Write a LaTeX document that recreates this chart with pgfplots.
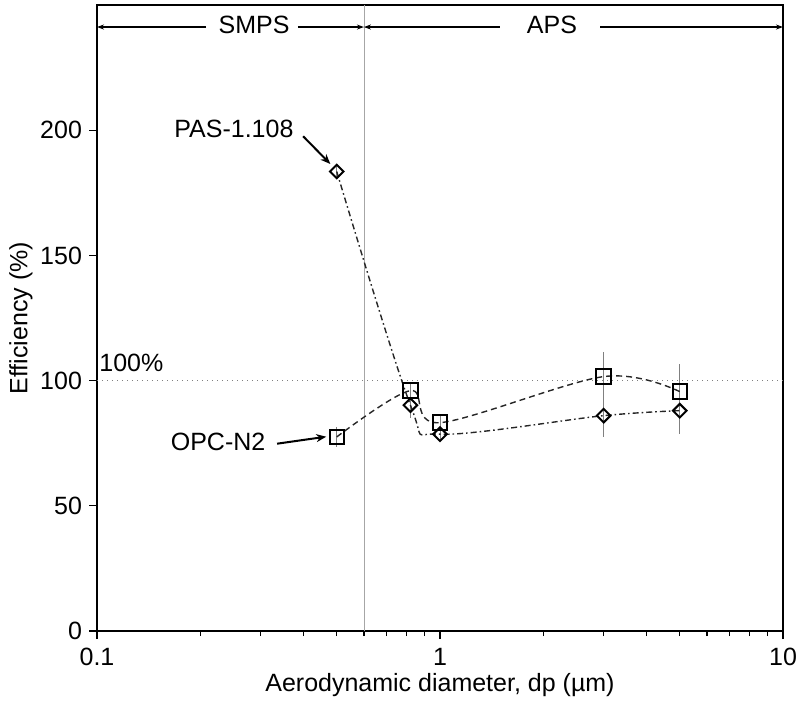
\documentclass[border=0pt]{standalone}
\usepackage{fontspec}
\setmainfont{Liberation Sans}
\usepackage{pgfplots}
\pgfplotsset{compat=1.18}
\usetikzlibrary{arrows.meta}
\begin{document}
\begin{tikzpicture}
\begin{axis}[
  xmode=log, scale only axis, width=343pt, height=313pt,
  xmin=0.1, xmax=10, ymin=0, ymax=250,
  xtick={0.1,1,10}, xticklabels={0.1,1,10},
  ytick={0,50,100,150,200},
  xtick pos=bottom, ytick pos=left,
  tick align=outside,
  major tick length=4pt, minor tick length=2.5pt,
  tick style={black, line width=0.6pt},
  axis line style={line width=0.8pt},
  font=\fontsize{12.5}{14}\selectfont,
  xlabel={Aerodynamic diameter, dp (µm)},
  ylabel={Efficiency (\%)},
  xlabel style={yshift=3pt},
  ylabel style={yshift=-3pt},
  xticklabel style={yshift=-1pt},
  /pgf/number format/assume math mode=true,
  clip=false,
]
% reference lines
\addplot[gray!70, line width=0.4pt, forget plot] coordinates {(0.6,0) (0.6,250)};
\addplot[gray, dotted, line width=0.5pt, forget plot] coordinates {(0.1,100) (10,100)};

% error bars
\addplot[draw=none, mark=none, forget plot, error bars/.cd, y dir=both, y explicit, error mark=none,
  error bar style={draw=gray, line width=0.4pt}]
  table[x=x, y=y, y error=e] {
x y e
0.5 77.5 4
0.82 96 3
1.0 83.2 3
3.0 101.6 10
5.0 95.6 11
};
\addplot[draw=none, mark=none, forget plot, error bars/.cd, y dir=both, y explicit, error mark=none,
  error bar style={draw=gray, line width=0.4pt}]
  table[x=x, y=y, y error=e] {
x y e
0.5 183.5 3
0.82 90.2 5
1.0 78.6 2
3.0 86 8.5
5.0 88 9.5
};

% OPC-N2
\addplot[black!85, line width=0.7pt, smooth, tension=0.55, dash pattern=on 3pt off 2pt,
  mark=square, mark size=3.6pt, mark options={solid, line width=1pt, black}]
  table[x=x, y=y] {
x y
0.5 77.5
0.82 96
1.0 83.2
3.0 101.6
5.0 95.6
};
% PAS-1.108
\addplot[black!85, line width=0.7pt, smooth, tension=0.55, dash pattern=on 3pt off 1.5pt on 0.8pt off 1.5pt,
  mark=square, mark size=2.4pt, mark options={solid, line width=1pt, black, rotate=45}]
  table[x=x, y=y] {
x y
0.5 183.5
0.82 90.2
1.0 78.6
3.0 86
5.0 88
};

% annotations
\node[anchor=south west, inner sep=1pt] at (axis cs:0.1,102.5) {100\%};
\node at (axis cs:0.2507,200.4) {PAS-1.108};
\draw[-{Stealth[length=5pt,width=4pt]}, line width=1pt] (axis cs:0.399,197.6) -- (axis cs:0.479,186.5);
\node at (axis cs:0.2254,75.6) {OPC-N2};
\draw[-{Stealth[length=5pt,width=4pt]}, line width=1pt] (axis cs:0.335,74.8) -- (axis cs:0.466,77.6);

% SMPS / APS
\draw[-{Stealth[length=3.5pt,width=2.5pt]}, line width=0.6pt] (axis cs:0.208,241.2) -- (axis cs:0.1,241.2);
\draw[-{Stealth[length=3.5pt,width=2.5pt]}, line width=0.6pt] (axis cs:0.385,241.2) -- (axis cs:0.6,241.2);
\node at (axis cs:0.287,242) {SMPS};
\draw[-{Stealth[length=3.5pt,width=2.5pt]}, line width=0.6pt] (axis cs:1.496,241.2) -- (axis cs:0.6,241.2);
\draw[-{Stealth[length=3.5pt,width=2.5pt]}, line width=0.6pt] (axis cs:2.93,241.2) -- (axis cs:10,241.2);
\node at (axis cs:2.12,242) {APS};
\end{axis}
\pgfresetboundingbox
\path ([shift={(-48.5pt,-37.5pt)}]current axis.south west) rectangle ([shift={(8.5pt,2.5pt)}]current axis.north east);
\end{tikzpicture}
\end{document}
